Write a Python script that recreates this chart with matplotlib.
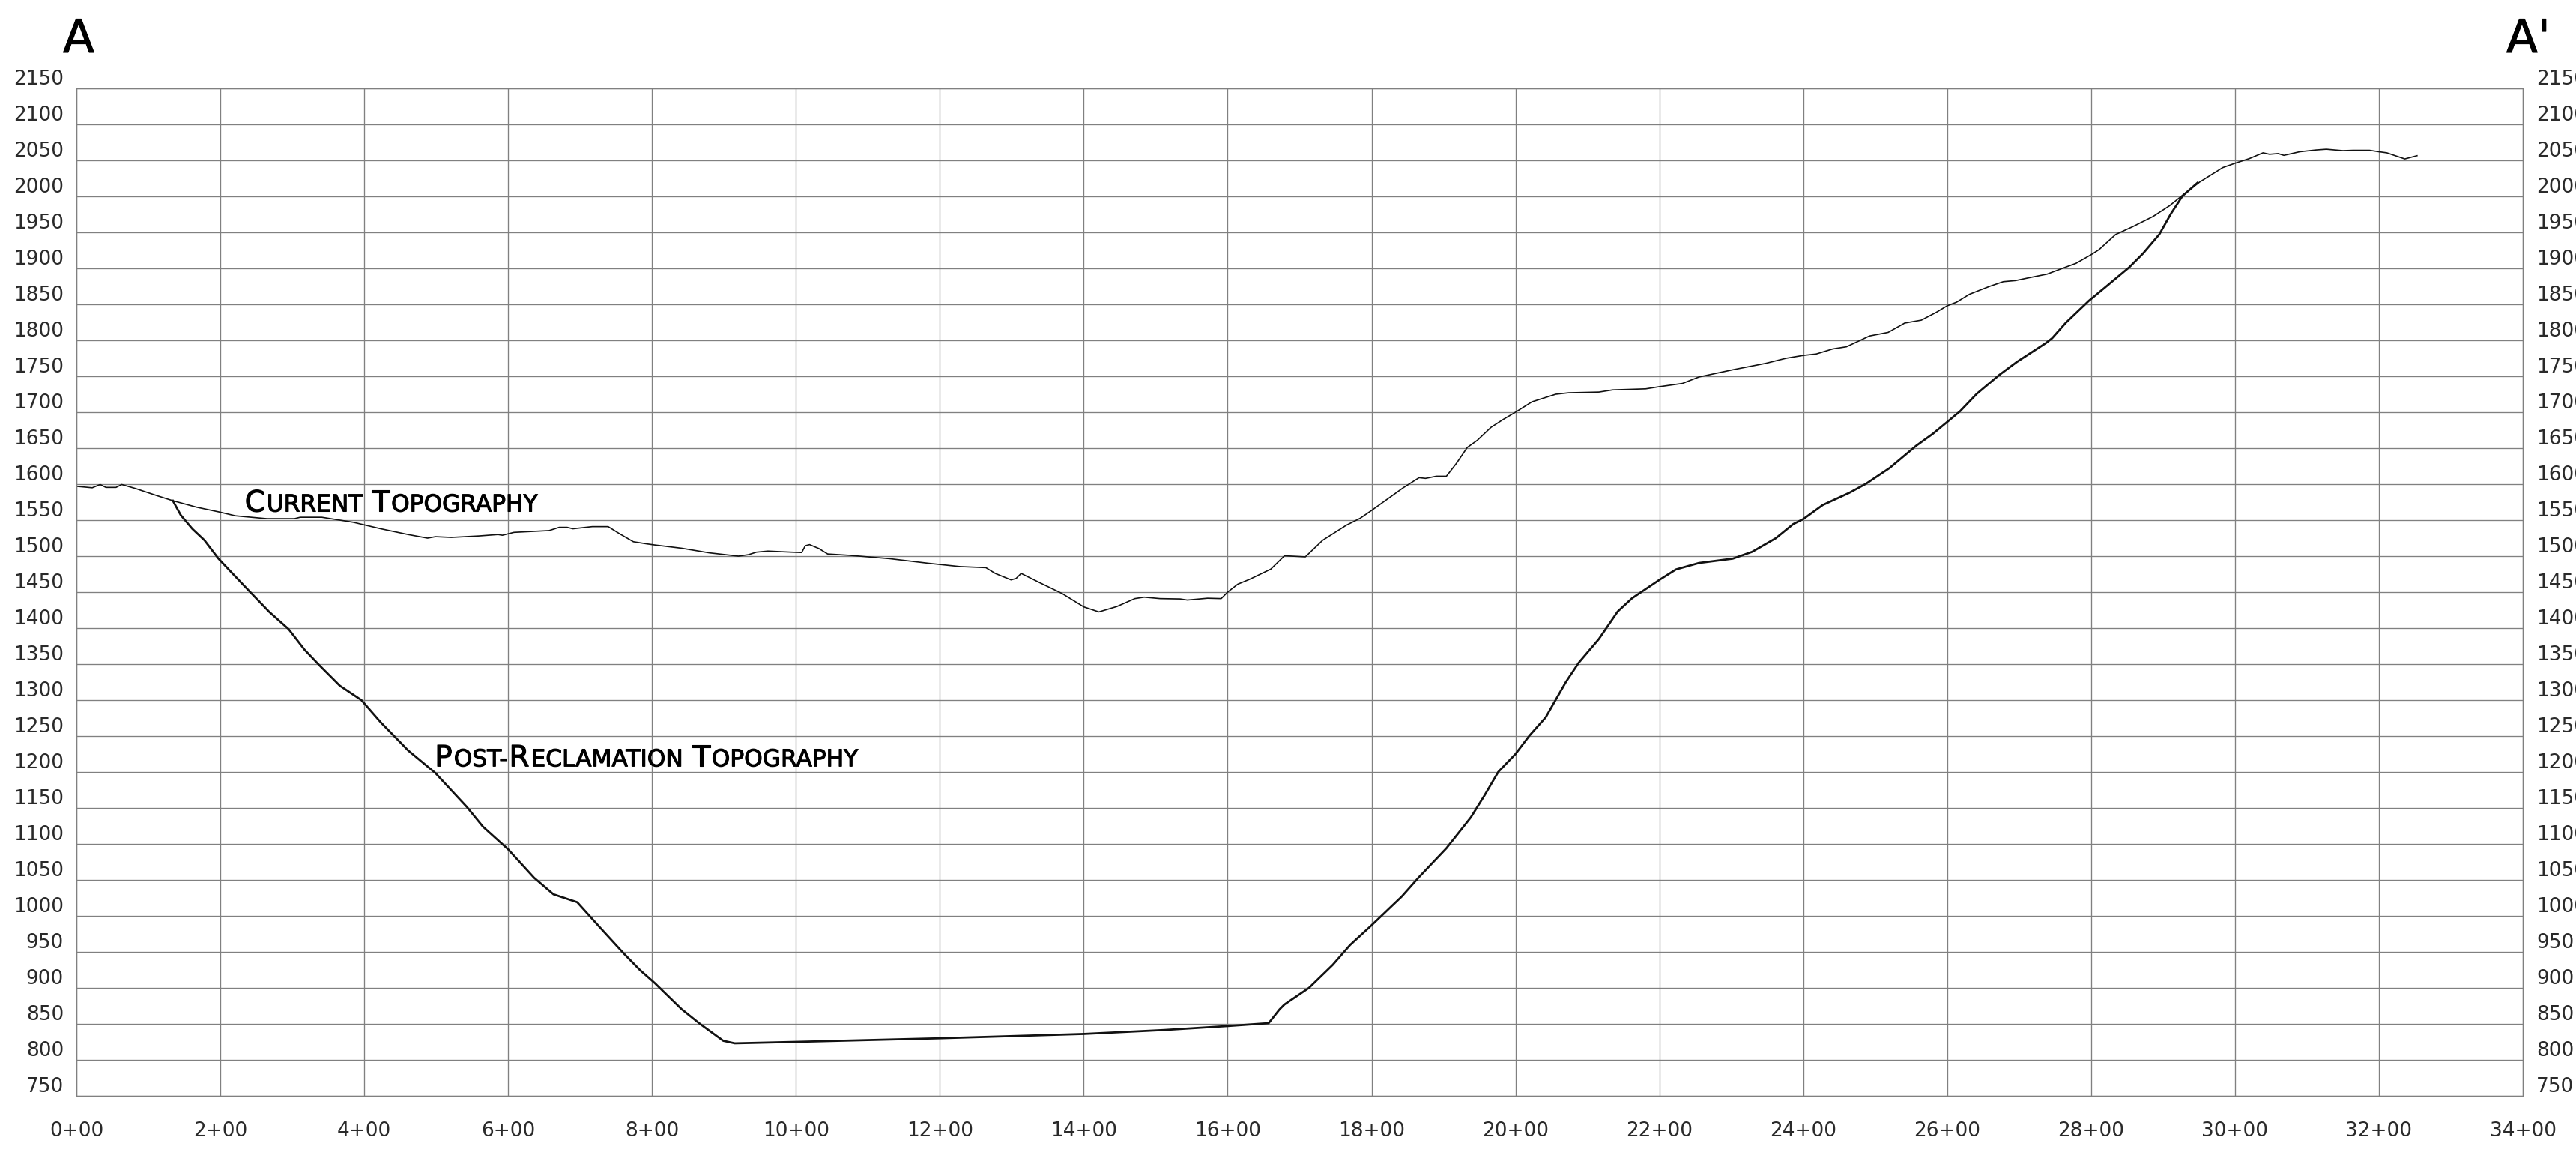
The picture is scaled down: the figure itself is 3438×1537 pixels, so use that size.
import matplotlib
matplotlib.use("Agg")
import matplotlib.pyplot as plt
import matplotlib.patheffects as pe
from matplotlib.transforms import offset_copy

# Section A - A' : station (ft) and elevation (ft)
current_sta = [0, 22, 33, 41, 55, 63, 82, 112, 134, 167, 200, 221, 265, 303, 311,
               341, 385, 423, 461, 488, 499, 521, 559, 586, 592, 608, 657, 671, 682,
               690, 717, 739, 755, 774, 793, 804, 841, 880, 920, 934, 945, 961, 994,
               1008, 1013, 1019, 1032, 1044, 1076, 1130, 1185, 1228, 1264, 1277, 1299,
               1306, 1313, 1337, 1370, 1400, 1421, 1446, 1471, 1484, 1506, 1534, 1544,
               1572, 1591, 1600, 1614, 1631, 1660, 1679, 1708, 1732, 1765, 1784, 1800,
               1823, 1844, 1866, 1875, 1890, 1904, 1918, 1933, 1947, 1966, 1983, 2000,
               2023, 2056, 2074, 2116, 2135, 2181, 2200, 2232, 2255, 2302, 2348, 2376,
               2400, 2418, 2441, 2460, 2492, 2518, 2541, 2564, 2585, 2600, 2613, 2631,
               2659, 2678, 2695, 2714, 2739, 2760, 2779, 2800, 2811, 2834, 2858, 2886,
               2909, 2932, 2951, 2983, 3000, 3020, 3039, 3048, 3060, 3068, 3090, 3113,
               3127, 3150, 3164, 3187, 3200, 3211, 3236, 3253]
current_elev = [1597, 1595, 1599.5, 1595.5, 1595.5, 1599.5, 1594, 1584, 1577, 1568,
                1561, 1556, 1552, 1552, 1554, 1554, 1547, 1538, 1530, 1525, 1527, 1526,
                1528, 1530, 1529, 1533, 1535.5, 1540, 1540, 1538, 1541, 1541, 1531,
                1520, 1517, 1515.5, 1511, 1504.5, 1500, 1502, 1505.5, 1507, 1505.5,
                1505, 1514.5, 1516, 1510.5, 1503, 1501, 1496.5, 1490, 1485.5, 1484,
                1476, 1467, 1469, 1476, 1464, 1448, 1429.5, 1422.5, 1430, 1441, 1443,
                1441, 1440.5, 1439, 1441.5, 1441, 1450, 1461, 1468, 1482, 1500.5, 1499,
                1522, 1543, 1552.5, 1563.5, 1580, 1595, 1609, 1608, 1611, 1611, 1629,
                1651, 1661, 1679, 1690, 1700, 1714.5, 1725, 1727, 1728, 1731, 1732.5,
                1735.5, 1740, 1749, 1759, 1768, 1775, 1779, 1781, 1788, 1791, 1806,
                1811, 1824, 1828, 1839, 1848, 1853, 1864, 1875, 1881.5, 1883, 1887,
                1892, 1900, 1907, 1919, 1926, 1947, 1958, 1972, 1987, 2005.5, 2020,
                2040, 2046, 2052.5, 2060.5, 2058.5, 2059.5, 2057, 2062, 2064.5, 2065.5,
                2063.5, 2064, 2064, 2062, 2060.5, 2052, 2056.5]

post_sta = [134, 145, 161, 178, 197, 232, 268, 295, 317, 338, 366, 396, 423, 461, 499,
            543, 565, 600, 636, 663, 696, 728, 761, 783, 804, 841, 866, 899, 915, 1000,
            1200, 1400, 1512, 1600, 1657, 1672, 1679, 1713, 1746, 1770, 1800, 1842,
            1866, 1904, 1938, 1957, 1976, 2000, 2019, 2042, 2070, 2088, 2116, 2142,
            2162, 2200, 2223, 2255, 2302, 2329, 2362, 2386, 2400, 2427, 2464, 2487,
            2520, 2557, 2580, 2600, 2618, 2641, 2672, 2697, 2737, 2746, 2765, 2797,
            2820, 2853, 2872, 2895, 2911, 2927, 2948]
post_elev = [1577, 1557, 1538, 1522, 1497, 1460, 1422.5, 1398.5, 1370, 1348, 1320,
             1300, 1269, 1230, 1198.5, 1151, 1124, 1092.5, 1053, 1030, 1019, 983.5,
             947.5, 925, 906.5, 870.5, 850.5, 826.5, 823, 825, 830, 836, 841.5, 847,
             851, 870, 877, 900, 932, 959.5, 987, 1027, 1054, 1094, 1137, 1167.5, 1200,
             1225, 1250, 1276, 1325, 1352, 1385, 1423, 1441.5, 1467, 1481.5, 1490.5,
             1496.5, 1506, 1525, 1544.5, 1551.5, 1571, 1588, 1600.5, 1622.5, 1653.5,
             1670, 1686.5, 1701.5, 1725.5, 1751.5, 1770, 1796, 1803, 1824.5, 1855,
             1874, 1901.5, 1920.5, 1947.5, 1976, 2000.5, 2019]

stations = list(range(0, 3401, 200))
elevations = list(range(750, 2151, 50))

# label text: capitals are drawn large, lower case as small capitals
current_label = ("Current Topography", 234, 1562)
post_label = ("Post-Reclamation Topography", 498, 1208)

GRID = "#808080"
INK = "#111111"
TICK_INK = "#2a2a2a"

W, H = 3438, 1537
fig = plt.figure(figsize=(W / 100, H / 100), dpi=100)
ax = fig.add_axes([102 / W, 75 / H, 3265 / W, 1344 / H])
ax.set_xlim(stations[0], stations[-1])
ax.set_ylim(elevations[0], elevations[-1])
ax.set_xticks(stations)
ax.set_yticks(elevations)
ax.tick_params(length=0, labelleft=False, labelbottom=False)
ax.grid(True, color=GRID, linewidth=0.95)
for sp in ax.spines.values():
    sp.set_color(GRID)
    sp.set_linewidth(0.95)

ax.plot(current_sta, current_elev, color=INK, linewidth=1.2, solid_joinstyle="round")
ax.plot(post_sta, post_elev, color=INK, linewidth=2.0, solid_joinstyle="round")

# elevation labels on both sides, sitting just above their grid line
ytr = ax.get_yaxis_transform()
left_tr = offset_copy(ytr, fig=fig, x=-17, y=5, units="dots")
right_tr = offset_copy(ytr, fig=fig, x=18, y=5, units="dots")
for e in elevations:
    ax.text(0, e, str(e), transform=left_tr, ha="right", va="baseline",
            fontsize=19, color=TICK_INK, clip_on=False)
    ax.text(1, e, str(e), transform=right_tr, ha="left", va="baseline",
            fontsize=19, color=TICK_INK, clip_on=False)

# station labels
xtr = offset_copy(ax.get_xaxis_transform(), fig=fig, x=0, y=-54, units="dots")
for s in stations:
    ax.text(s, 0, f"{s // 100}+{s % 100:02d}", transform=xtr, ha="center",
            va="baseline", fontsize=19, color=TICK_INK, clip_on=False)

# section end marks
heavy = [pe.withStroke(linewidth=0.8, foreground="black")]
fig.text(105 / W, 1 - 70 / H, "A", ha="center", va="baseline", fontsize=44,
         color="black", path_effects=heavy)
fig.text(3345 / W, 1 - 70 / H, "A'", ha="left", va="baseline", fontsize=44,
         color="black", path_effects=heavy)


def caps_label(ax, text, x, y, big=28, small=22.5):
    renderer = ax.figure.canvas.get_renderer()
    runs = []
    for ch in text:
        size = big if ch.isupper() else small
        if runs and runs[-1][1] == size:
            runs[-1][0] += ch.upper()
        else:
            runs.append([ch.upper(), size])
    dx = 0.0
    stroke = [pe.withStroke(linewidth=0.8, foreground="black")]
    for part, size in runs:
        tr = offset_copy(ax.transData, fig=ax.figure, x=dx, y=0, units="dots")
        t = ax.text(x, y, part, transform=tr, ha="left", va="baseline",
                    fontsize=size, color="black", path_effects=stroke)
        dx += t.get_window_extent(renderer).width + 2


caps_label(ax, *current_label)
caps_label(ax, *post_label)

fig.savefig("out.png", dpi=100)
